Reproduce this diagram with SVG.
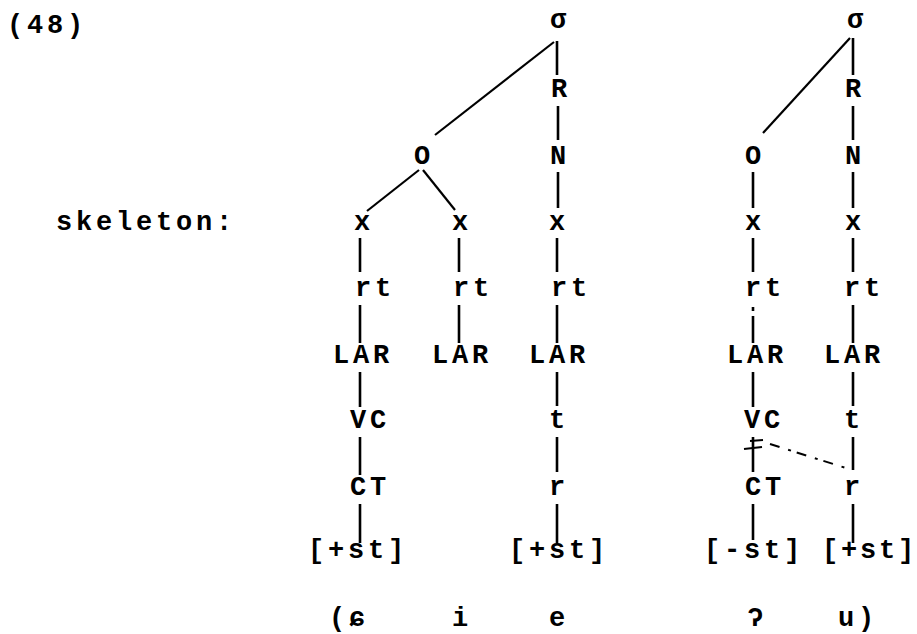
<svg xmlns="http://www.w3.org/2000/svg" width="917" height="634" viewBox="0 0 917 634">
<style>
text { font-family: "Liberation Mono", "DejaVu Sans Mono", monospace; font-size: 27px; font-weight: bold; letter-spacing: 3.8px; fill: #000; }
.ln { stroke: #000; stroke-width: 2.6; fill: none; stroke-linecap: butt; }
.dg { stroke: #000; stroke-width: 2.2; fill: none; }
.ds { stroke: #000; stroke-width: 2; fill: none; stroke-dasharray: 10 9 3 6; }
.ns { letter-spacing: 0; }
</style>
<rect width="917" height="634" fill="#fff"/>
<text x="7" y="33">(48)</text>
<text x="56" y="230">skeleton:</text>

<g id="connectors">
  <!-- left tree -->
  <line class="dg" x1="554" y1="42" x2="435" y2="135"/>
  <line class="dg" x1="419" y1="170" x2="367" y2="211"/>
  <line class="dg" x1="423" y1="170" x2="455" y2="210"/>
  <line class="ln" x1="557" y1="41" x2="557" y2="75"/>
  <line class="ln" x1="558" y1="106" x2="558" y2="140"/>
  <line class="ln" x1="558" y1="172" x2="558" y2="208"/>
  <line class="ln" x1="557" y1="238" x2="557" y2="272"/>
  <line class="ln" x1="557" y1="305" x2="557" y2="343"/>
  <line class="ln" x1="557" y1="372" x2="557" y2="406"/>
  <line class="ln" x1="557" y1="437" x2="557" y2="472"/>
  <line class="ln" x1="557" y1="504" x2="557" y2="543"/>
  <line class="ln" x1="360" y1="238" x2="360" y2="272"/>
  <line class="ln" x1="360" y1="305" x2="360" y2="343"/>
  <line class="ln" x1="360" y1="372" x2="360" y2="407"/>
  <line class="ln" x1="360" y1="437" x2="360" y2="475"/>
  <line class="ln" x1="360" y1="504" x2="360" y2="543"/>
  <line class="ln" x1="459" y1="238" x2="459" y2="272"/>
  <line class="ln" x1="459" y1="305" x2="459" y2="343"/>
  <!-- right tree -->
  <line class="dg" x1="850" y1="38" x2="763" y2="133"/>
  <line class="ln" x1="853" y1="38" x2="853" y2="75"/>
  <line class="ln" x1="853" y1="106" x2="853" y2="140"/>
  <line class="ln" x1="853" y1="172" x2="853" y2="208"/>
  <line class="ln" x1="753" y1="172" x2="753" y2="208"/>
  <line class="ln" x1="753" y1="238" x2="753" y2="272"/>
  <line class="ln" x1="853" y1="238" x2="853" y2="272"/>
  <line class="ln" x1="753" y1="307" x2="753" y2="311"/>
  <line class="ln" x1="753" y1="316" x2="753" y2="343"/>
  <line class="ln" x1="853" y1="305" x2="853" y2="343"/>
  <line class="ln" x1="753" y1="372" x2="753" y2="407"/>
  <line class="ln" x1="853" y1="372" x2="853" y2="406"/>
  <line class="ln" x1="753" y1="437" x2="753" y2="472"/>
  <line class="ln" x1="853" y1="437" x2="853" y2="470"/>
  <line class="ln" x1="753" y1="504" x2="753" y2="540"/>
  <line class="ln" x1="853" y1="504" x2="853" y2="543"/>
  <!-- delinking marks -->
  <line class="dg" x1="750" y1="441" x2="763" y2="440"/>
  <line class="dg" x1="744" y1="449" x2="762" y2="447"/>
  <!-- dashed association -->
  <line class="ds" x1="770" y1="444" x2="849" y2="469"/>
</g>

<g id="n-sigma1"><text x="550" y="28">σ</text></g>
<g id="n-R1"><text x="551" y="97">R</text></g>
<g id="n-N1"><text x="550" y="164">N</text></g>
<g id="n-O1"><text x="414" y="164">O</text></g>
<g id="n-x1a"><text x="354" y="230">x</text></g>
<g id="n-x1b"><text x="452" y="230">x</text></g>
<g id="n-x1c"><text x="549" y="230">x</text></g>
<g id="n-rt1a"><text x="355" y="296">rt</text></g>
<g id="n-rt1b"><text x="453" y="296">rt</text></g>
<g id="n-rt1c"><text x="551" y="296">rt</text></g>
<g id="n-LAR1a"><text x="333" y="363">LAR</text></g>
<g id="n-LAR1b"><text x="432" y="363">LAR</text></g>
<g id="n-LAR1c"><text x="529" y="363">LAR</text></g>
<g id="n-VC1"><text x="350" y="428">VC</text></g>
<g id="n-t1"><text x="549" y="428">t</text></g>
<g id="n-CT1"><text x="350" y="495">CT</text></g>
<g id="n-r1"><text x="549" y="495">r</text></g>
<g id="n-st1a"><text x="308" y="558">[+st]</text></g>
<g id="n-st1b"><text x="509" y="558">[+st]</text></g>

<g id="n-sigma2"><text x="847" y="28">σ</text></g>
<g id="n-R2"><text x="845" y="97">R</text></g>
<g id="n-N2"><text x="845" y="164">N</text></g>
<g id="n-O2"><text x="745" y="164">O</text></g>
<g id="n-x2a"><text x="745" y="230">x</text></g>
<g id="n-x2b"><text x="845" y="230">x</text></g>
<g id="n-rt2a"><text x="745" y="296">rt</text></g>
<g id="n-rt2b"><text x="844" y="296">rt</text></g>
<g id="n-LAR2a"><text x="727" y="363">LAR</text></g>
<g id="n-LAR2b"><text x="824" y="363">LAR</text></g>
<g id="n-VC2"><text x="744" y="428">VC</text></g>
<g id="n-t2"><text x="844" y="428">t</text></g>
<g id="n-CT2"><text x="745" y="495">CT</text></g>
<g id="n-r2"><text x="844" y="495">r</text></g>
<g id="n-st2a"><text x="704" y="558">[-st]</text></g>
<g id="n-st2b"><text class="ns" x="822 841 860 879 898" y="558">[+st]</text></g>

<g id="gloss">
  <text x="329" y="626">(ɕ</text>
  <text x="452" y="626">i</text>
  <text x="549" y="626">e</text>
  <text x="747" y="626">ʔ</text>
  <text x="838" y="626">u)</text>
</g>
</svg>
